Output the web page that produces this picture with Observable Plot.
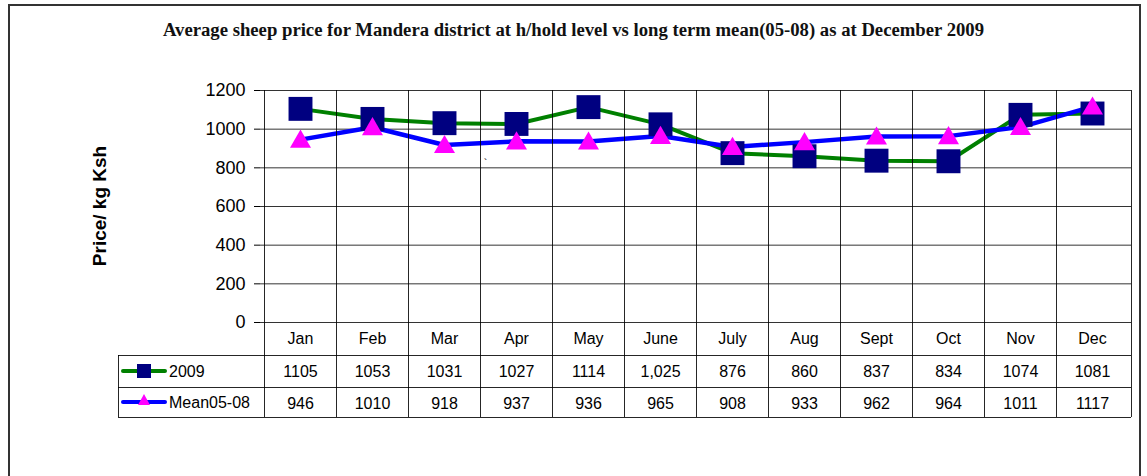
<!DOCTYPE html>
<html><head><meta charset="utf-8">
<script src="https://cdn.jsdelivr.net/npm/d3@7"></script>
<script src="https://cdn.jsdelivr.net/npm/@observablehq/plot@0.6"></script>
<style>
html,body{margin:0;padding:0;background:#fff;}
#wrap{position:relative;width:1147px;height:476px;overflow:hidden;}
#frame{position:absolute;left:8px;top:4px;width:1129px;height:520px;border:2px solid #333;}
#title{position:absolute;left:0;top:19px;width:1147px;text-align:center;font-family:"Liberation Serif",serif;font-weight:bold;font-size:18.7px;color:#111;white-space:nowrap;}
#chart{position:absolute;left:0;top:0;}
</style></head><body>
<div id="wrap"><div id="frame"></div><div id="chart"></div>
<div id="title">Average sheep price for Mandera district at h/hold level vs long term mean(05-08) as at December 2009</div></div>
<script>
const months = ["Jan","Feb","Mar","Apr","May","June","July","Aug","Sept","Oct","Nov","Dec"];
const values2009 = [1105,1053,1031,1027,1114,1025,876,860,837,834,1074,1081];
const valuesMean = [946,1010,918,937,936,965,908,933,962,964,1011,1117];
const labels2009 = ["1105","1053","1031","1027","1114","1,025","876","860","837","834","1074","1081"];
const labelsMean = ["946","1010","918","937","936","965","908","933","962","964","1011","1117"];
const seriesNames = ["2009","Mean05-08"];
const yTicks = [0,200,400,600,800,1000,1200];
const yLabel = "Price/ kg Ksh";

const d2009 = months.map((m,i)=>({month:m, value:values2009[i], label:labels2009[i]}));
const dMean = months.map((m,i)=>({month:m, value:valuesMean[i], label:labelsMean[i]}));

const plot = Plot.plot({
  width:1147, height:476, marginLeft:260, marginRight:16, marginTop:90, marginBottom:154,
  style:{fontFamily:"Liberation Sans, Arial, sans-serif", background:"transparent", overflow:"visible", color:"#000"},
  x:{type:"band", domain:months, padding:0, axis:null},
  y:{domain:[0,1200], nice:false},
  marks:[
    Plot.ruleY(yTicks, {stroke:"#000", strokeOpacity:0.8}),
    Plot.axisY({ticks:yTicks, tickSize:6, tickPadding:9, fontSize:18, label:null, tickFormat:d=>String(d), stroke:"#000"}),
    Plot.line(d2009, {x:"month", y:"value", stroke:"#008000", strokeWidth:4}),
    Plot.line(dMean, {x:"month", y:"value", stroke:"#0000ff", strokeWidth:4.5}),
    Plot.dot(d2009, {x:"month", y:"value", symbol:"square", r:13.5, fill:"#000080"}),
    Plot.dot(dMean, {x:"month", y:"value", symbol:"triangle", r:7.8, fill:"#ff00ff", dy:2}),
    Plot.text(months, {x:d=>d, y:()=>0, text:d=>d, dy:16, fontSize:16, fill:"#000"}),
    Plot.text(d2009, {x:"month", y:()=>0, text:"label", dy:49, fontSize:16, fill:"#000"}),
    Plot.text(dMean, {x:"month", y:()=>0, text:"label", dy:81, fontSize:16, fill:"#000"}),
    Plot.text(["`"], {x:()=>"Apr", y:()=>820, text:d=>d, dx:-31, fontSize:11, fill:"#000"})
  ]
});
document.getElementById("chart").appendChild(plot);

const svg = d3.select(plot);
const xs = plot.scale("x"), ys = plot.scale("y");
const y0 = ys.apply(0), yTop = ys.apply(1200);
const xEnd = xs.range[1];
const row1 = y0 + 33, row2 = y0 + 65, row3 = y0 + 95;
const legLeft = 118;
const g = svg.append("g").attr("stroke","#000").attr("stroke-opacity",0.85).attr("shape-rendering","crispEdges");
const bounds = months.map(m=>xs.apply(m)).concat([xEnd]);
bounds.forEach(bx=>{
  g.append("line").attr("x1",bx).attr("x2",bx).attr("y1",yTop).attr("y2",row3);
});
[row1,row2,row3].forEach(ry=>{
  g.append("line").attr("x1",legLeft).attr("x2",xEnd).attr("y1",ry).attr("y2",ry);
});
g.append("line").attr("x1",legLeft).attr("x2",legLeft).attr("y1",row1).attr("y2",row3);

// legend keys
const keys = [
  {name:seriesNames[0], y:(row1+row2)/2, stroke:"#008000", fill:"#000080", sym:"square"},
  {name:seriesNames[1], y:(row2+row3)/2, stroke:"#0000ff", fill:"#ff00ff", sym:"triangle"}
];
keys.forEach(k=>{
  svg.append("line").attr("x1",123).attr("x2",165).attr("y1",k.y).attr("y2",k.y)
    .attr("stroke",k.stroke).attr("stroke-width",4).attr("stroke-linecap","round");
  if (k.sym==="square") {
    svg.append("rect").attr("x",137).attr("y",k.y-7).attr("width",14).attr("height",14).attr("fill",k.fill);
  } else {
    svg.append("path").attr("d",`M144,${k.y-8}L150,${k.y+3}L138,${k.y+3}Z`).attr("fill",k.fill);
  }
  svg.append("text").attr("x",169).attr("y",k.y).attr("dy","0.35em").attr("text-anchor","start")
    .attr("font-size",16).attr("fill","#000").text(k.name);
});

svg.append("text").attr("transform",`translate(106,${(yTop+y0)/2}) rotate(-90)`)
  .attr("text-anchor","middle").attr("font-size",19).attr("font-weight","bold").attr("fill","#000").text(yLabel);
</script>
</body></html>
